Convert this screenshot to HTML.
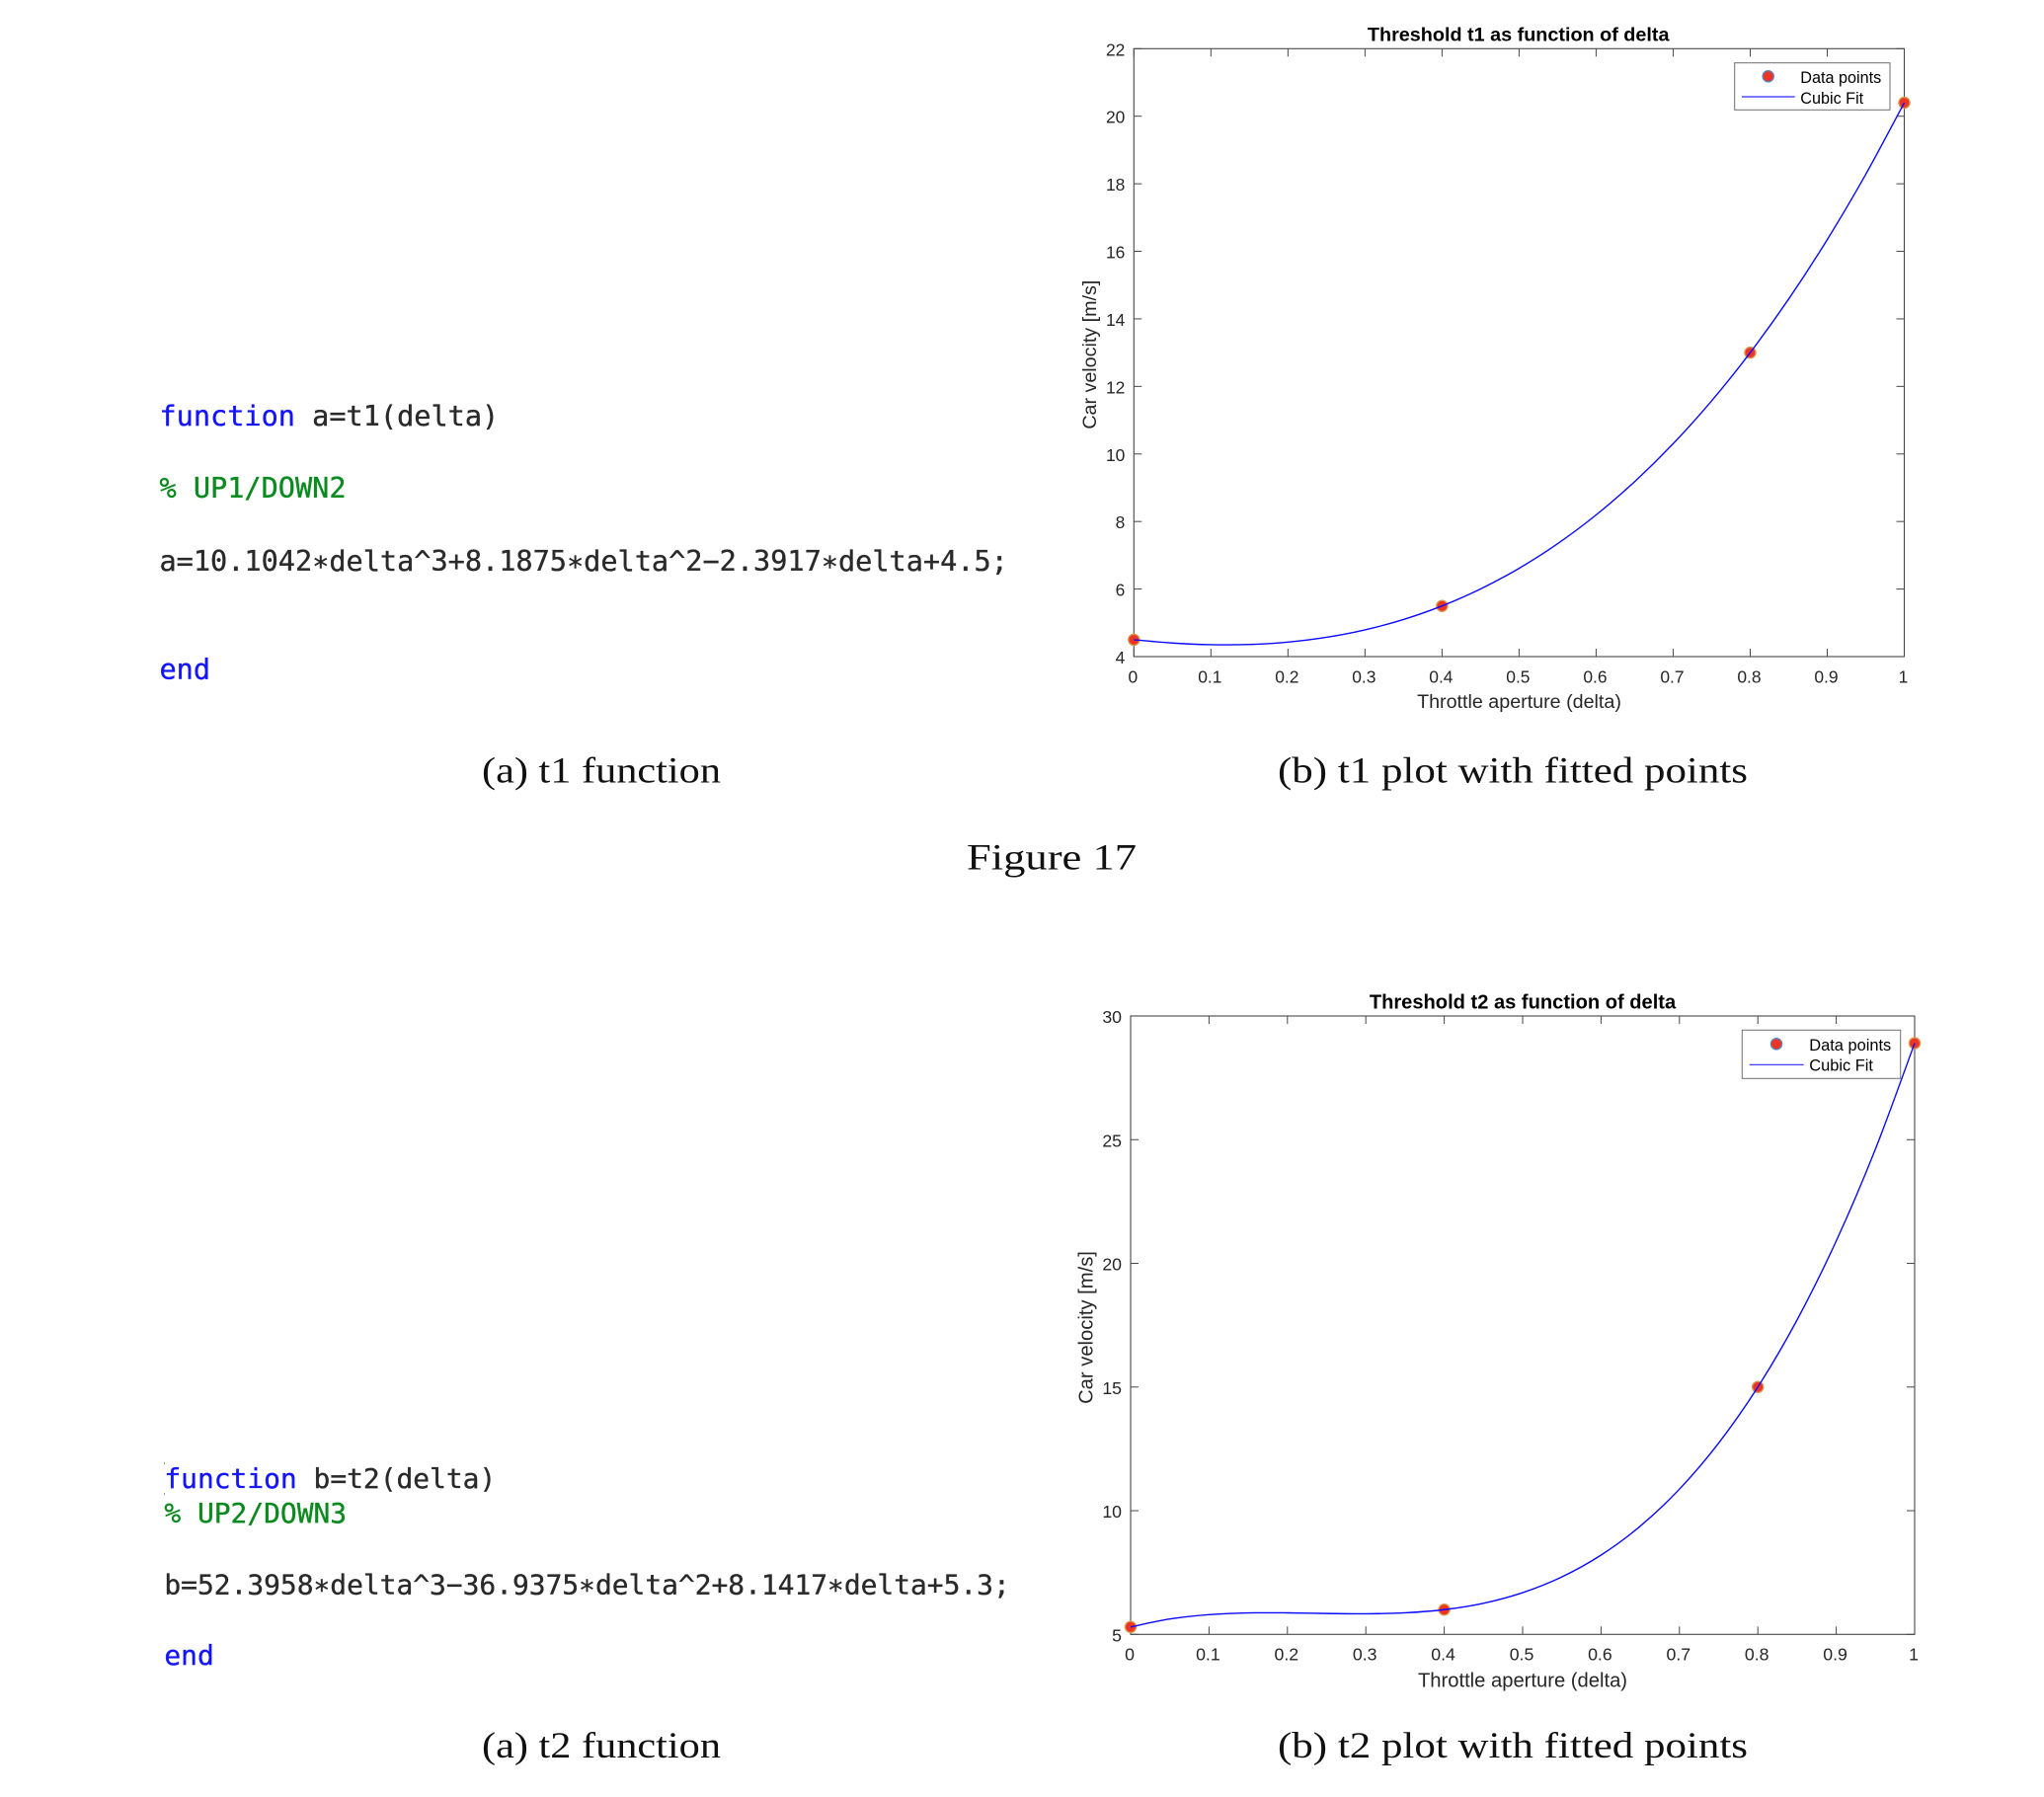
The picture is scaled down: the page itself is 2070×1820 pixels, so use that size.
<!DOCTYPE html>
<html lang="en">
<head>
<meta charset="utf-8">
<title>Threshold functions t1 and t2</title>
<style>
html,body{margin:0;padding:0;background:#fff;width:2070px;height:1820px;overflow:hidden}
svg{display:block}
.code{font-family:"DejaVu Sans Mono","Liberation Mono",monospace;white-space:pre;stroke-width:.35px}
.kw{fill:#1414ff;stroke:#1414ff}
.cm{fill:#0b8a1e;stroke:#0b8a1e}
.tx{fill:#2a2a2a;stroke:#2a2a2a}
.cap{font-family:"Liberation Serif",serif;font-size:37px;fill:#111}
.tick{font-family:"Liberation Sans",sans-serif;fill:#262626}
.lab{font-family:"Liberation Sans",sans-serif;fill:#262626}
.ttl{font-family:"Liberation Sans",sans-serif;font-weight:bold;fill:#000}
.leg{font-family:"Liberation Sans",sans-serif;fill:#000}
</style>
</head>
<body>
<svg id="page" xmlns="http://www.w3.org/2000/svg" width="2070" height="1820" viewBox="0 0 2070 1820">
  <rect x="0" y="0" width="2070" height="1820" fill="#fff"/>

  <g class="code" font-size="28.55">
    <text x="161.5" y="431"><tspan class="kw">function</tspan><tspan class="tx"> a=t1(delta)</tspan></text>
    <text x="161.5" y="504.2" class="cm">% UP1/DOWN2</text>
    <text x="161.5" y="578" class="tx">a=10.1042∗delta^3+8.1875∗delta^2−2.3917∗delta+4.5;</text>
    <text x="161.5" y="687.7" class="kw">end</text>
  </g>

  <g class="code" font-size="27.9">
    <rect x="166" y="1481" width="1" height="2" fill="#999"/>
    <rect x="166" y="1512" width="1" height="2" fill="#999"/>
    <text x="166.4" y="1507"><tspan class="kw">function</tspan><tspan class="tx"> b=t2(delta)</tspan></text>
    <text x="166.4" y="1542" class="cm">% UP2/DOWN3</text>
    <text x="166.4" y="1614.6" class="tx">b=52.3958∗delta^3−36.9375∗delta^2+8.1417∗delta+5.3;</text>
    <text x="166.4" y="1686.2" class="kw">end</text>
  </g>

  <text class="cap" x="488" y="792.5" textLength="242" lengthAdjust="spacingAndGlyphs">(a) t1 function</text>
  <text class="cap" x="1294" y="792.5" textLength="476" lengthAdjust="spacingAndGlyphs">(b) t1 plot with fitted points</text>
  <text class="cap" x="979" y="880.7" textLength="172" lengthAdjust="spacingAndGlyphs">Figure 17</text>
  <text class="cap" x="488" y="1780.1" textLength="242" lengthAdjust="spacingAndGlyphs">(a) t2 function</text>
  <text class="cap" x="1294" y="1780.1" textLength="476" lengthAdjust="spacingAndGlyphs">(b) t2 plot with fitted points</text>

  <g id="chart-t1"></g>
  <g id="chart-t2"></g>
</svg>

<script>
// ---- chart data ----
const xTickLabels = ["0", "0.1", "0.2", "0.3", "0.4", "0.5", "0.6", "0.7", "0.8", "0.9", "1"];
const xTickValues = [0, 0.1, 0.2, 0.3, 0.4, 0.5, 0.6, 0.7, 0.8, 0.9, 1];
const pointDeltas = [0, 0.4, 0.8, 1];
const curveDeltas = [0, 0.05, 0.1, 0.15, 0.2, 0.25, 0.3, 0.35, 0.4, 0.45, 0.5, 0.55, 0.6, 0.65, 0.7, 0.75, 0.8, 0.85, 0.9, 0.95, 1];

const t1YTicks = [4, 6, 8, 10, 12, 14, 16, 18, 20, 22];
const t1Points = [4.5, 5.5, 13, 20.4];
const t1Curve = [4.5, 4.4021, 4.3528, 4.3595, 4.43, 4.5717, 4.7922, 5.0991, 5.5, 6.0024, 6.614, 7.3424, 8.195, 9.1795, 10.3034, 11.5744, 13, 14.5879, 16.3454, 18.2802, 20.4];

const t2YTicks = [5, 10, 15, 20, 25, 30];
const t2Points = [5.3, 6, 15, 28.9];
const t2Curve = [5.3, 5.6213, 5.7972, 5.867, 5.87, 5.8455, 5.8328, 5.8712, 6, 6.2585, 6.686, 7.3217, 8.205, 9.3754, 10.8716, 12.7334, 15, 17.7109, 20.9047, 24.6214, 28.9];

const t1Title = "Threshold t1 as function of delta";
const t2Title = "Threshold t2 as function of delta";
const xAxisTitle = "Throttle aperture (delta)";
const yAxisTitle = "Car velocity [m/s]";
const legendLabels = ["Data points", "Cubic Fit"];

// ---- drawing ----
const NS = "http://www.w3.org/2000/svg";
function mk(parent, tag, attrs, text) {
  const el = document.createElementNS(NS, tag);
  for (const k in attrs) el.setAttribute(k, attrs[k]);
  if (text !== undefined) el.textContent = text;
  parent.appendChild(el);
  return el;
}
function smoothPath(pts) {
  let d = "M" + pts[0][0].toFixed(2) + " " + pts[0][1].toFixed(2);
  for (let i = 0; i < pts.length - 1; i++) {
    const p0 = pts[Math.max(0, i - 1)], p1 = pts[i], p2 = pts[i + 1], p3 = pts[Math.min(pts.length - 1, i + 2)];
    const c1x = p1[0] + (p2[0] - p0[0]) / 6, c1y = p1[1] + (p2[1] - p0[1]) / 6;
    const c2x = p2[0] - (p3[0] - p1[0]) / 6, c2y = p2[1] - (p3[1] - p1[1]) / 6;
    d += "C" + [c1x, c1y, c2x, c2y, p2[0], p2[1]].map(v => v.toFixed(2)).join(" ");
  }
  return d;
}
function drawChart(cfg) {
  const g = document.getElementById(cfg.id);
  const f = cfg.frame;
  const yMin = cfg.yTicks[0], yMax = cfg.yTicks[cfg.yTicks.length - 1];
  const xScale = v => f.left + v * (f.right - f.left);
  const yScale = v => f.bottom - (v - yMin) / (yMax - yMin) * (f.bottom - f.top);
  const axisColor = "#474747", tickLen = 8;

  // frame
  const box = mk(g, "rect", {x: f.left, y: f.top, width: f.right - f.left, height: f.bottom - f.top, fill: "#fff", stroke: axisColor, "stroke-width": 1.1});
  
  

  // x ticks
  xTickValues.forEach((v, i) => {
    const x = xScale(v);
    const t1 = mk(g, "line", {x1: x, x2: x, y1: f.bottom, y2: f.bottom - tickLen, stroke: axisColor, "stroke-width": 1});
    
    
    const t2 = mk(g, "line", {x1: x, x2: x, y1: f.top, y2: f.top + tickLen, stroke: axisColor, "stroke-width": 1});
    
    
    const lbl = mk(g, "text", {class: "tick", "font-size": cfg.tickFont, x: x - 1, y: f.bottom + 26.3, "text-anchor": "middle"}, xTickLabels[i]);
    
    
  });

  // y ticks
  cfg.yTicks.forEach(v => {
    const y = yScale(v);
    const t1 = mk(g, "line", {x1: f.left, x2: f.left + tickLen, y1: y, y2: y, stroke: axisColor, "stroke-width": 1});
    
    
    const t2 = mk(g, "line", {x1: f.right, x2: f.right - tickLen, y1: y, y2: y, stroke: axisColor, "stroke-width": 1});
    
    
    const lbl = mk(g, "text", {class: "tick", "font-size": cfg.tickFont, x: f.left - 9, y: y + 7, "text-anchor": "end"}, String(v));
    
    
  });

  // titles
  const title = mk(g, "text", {class: "ttl", "font-size": cfg.titleFont, x: cfg.titleX, y: cfg.titleY, "text-anchor": "middle"}, cfg.title);
  
  
  const xt = mk(g, "text", {class: "lab", "font-size": cfg.labelFont, x: cfg.xLabelX, y: cfg.xLabelY, "text-anchor": "middle"}, xAxisTitle);
  
  
  const yt = mk(g, "text", {class: "lab", "font-size": cfg.labelFont, x: 0, y: 0, "text-anchor": "middle", transform: "translate(" + cfg.yLabelX + " " + cfg.yLabelY + ") rotate(-90)"}, yAxisTitle);
  
  

  // data points
  pointDeltas.forEach((d, i) => {
    const c = mk(g, "circle", {cx: xScale(d), cy: yScale(cfg.points[i]), r: 5.6, fill: "#ee3424", stroke: "#d79a4e", "stroke-width": 1.3});
    
    
  });

  // fitted curve
  const pts = curveDeltas.map((d, i) => [xScale(d), yScale(cfg.curve[i])]);
  const line = mk(g, "path", {d: smoothPath(pts), fill: "none", stroke: "#0a0aff", "stroke-width": 1.4});
  
  

  // legend
  const L = cfg.legend;
  const lg = mk(g, "g", {});
  
  
  const lb = mk(lg, "rect", {x: L.left, y: L.top, width: L.right - L.left, height: L.bottom - L.top, fill: "#fff", stroke: "#6e6e6e", "stroke-width": 1});
  
  
  const lm = mk(lg, "circle", {cx: L.markerX, cy: L.markerY, r: 5.6, fill: "#ee3424", stroke: "#5a82bd", "stroke-width": 1.3});
  
  
  const ll = mk(lg, "line", {x1: L.lineX1, x2: L.lineX2, y1: L.lineY, y2: L.lineY, stroke: "#2a2aff", "stroke-width": 1.2});
  
  
  const t0 = mk(lg, "text", {class: "leg", "font-size": cfg.legendFont, x: L.textX, y: L.text1Y}, legendLabels[0]);
  
  
  const t1 = mk(lg, "text", {class: "leg", "font-size": cfg.legendFont, x: L.textX, y: L.text2Y}, legendLabels[1]);
  
  
}

drawChart({
  id: "chart-t1", title: t1Title, yTicks: t1YTicks, points: t1Points, curve: t1Curve,
  tickFont: 17.4, labelFont: 19.7, titleFont: 19.8, legendFont: 16.2,
  frame: {left: 1148.3, right: 1928.5, top: 49.3, bottom: 665},
  titleX: 1537.7, titleY: 41.7, xLabelX: 1538.5, xLabelY: 717, yLabelX: 1110, yLabelY: 359.2,
  legend: {left: 1756.7, right: 1914, top: 63.7, bottom: 111.3, markerX: 1790.7, markerY: 77.3, lineX1: 1764, lineX2: 1817.7, lineY: 98, textX: 1823.3, text1Y: 84, text2Y: 105}
});
drawChart({
  id: "chart-t2", title: t2Title, yTicks: t2YTicks, points: t2Points, curve: t2Curve,
  tickFont: 17.7, labelFont: 20.2, titleFont: 20.1, legendFont: 16.4,
  frame: {left: 1145, right: 1939, top: 1029, bottom: 1655.3},
  titleX: 1542, titleY: 1021.5, xLabelX: 1542, xLabelY: 1708.7, yLabelX: 1106.4, yLabelY: 1344.5,
  legend: {left: 1764.3, right: 1924.7, top: 1043.3, bottom: 1092.3, markerX: 1799, markerY: 1057.3, lineX1: 1771.7, lineX2: 1826.7, lineY: 1078.3, textX: 1832.3, text1Y: 1064, text2Y: 1084.7}
});
</script>
</body>
</html>
